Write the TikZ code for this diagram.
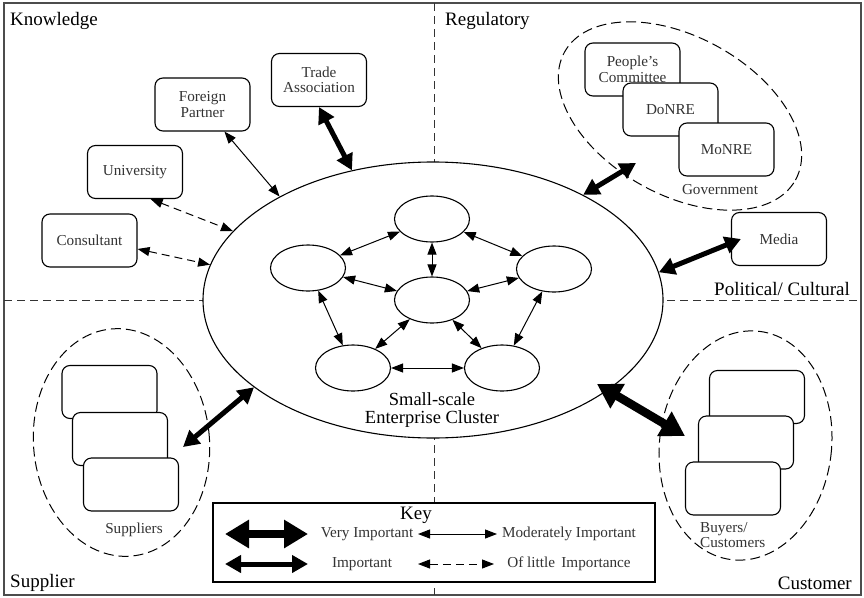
\documentclass[tikz,border=0pt]{standalone}
\usepackage{fontspec}
\setmainfont{Liberation Serif}
\usetikzlibrary{arrows.meta,shapes.geometric}
\begin{document}
\begin{tikzpicture}[x=1pt,y=-1pt,
  frame/.style={draw=black!70, line width=1.4pt},
  divider/.style={draw=black!80, line width=1pt, dash pattern=on 8pt off 5pt},
  box/.style={draw, line width=1.1pt, rounded corners=8pt, fill=white,
    minimum width=95pt, minimum height=53pt, inner sep=2pt, align=center,
    font=\fontsize{15.2}{15.5}\selectfont, text=black!80},
  grp/.style={ellipse, draw, line width=1pt, dash pattern=on 10pt off 5pt, inner sep=0pt},
  inell/.style={ellipse, draw, line width=1.1pt, fill=white, minimum width=75pt, minimum height=46pt, inner sep=0pt},
  small/.style={font=\fontsize{15.2}{15.5}\selectfont, text=black!80, inner sep=0pt},
  head/.style={font=\fontsize{19}{20}\selectfont, inner sep=0pt},
  vimp/.style={line width=8.5pt, {Triangle[length=24pt,width=27pt]}-{Triangle[length=24pt,width=27pt]}},
  imp/.style={line width=5pt, {Triangle[length=16pt,width=17pt]}-{Triangle[length=16pt,width=17pt]}},
  mod/.style={line width=1pt, {Triangle[length=12pt,width=9pt]}-{Triangle[length=12pt,width=9pt]}},
  little/.style={mod, dash pattern=on 8pt off 5pt},
]
\useasboundingbox (0,0) rectangle (864,597);
\fill[white] (0,0) rectangle (864,597);
\draw[frame] (4,3) rectangle (861,595);
\draw[divider] (434,3) -- (434,595);
\draw[divider] (4,300) -- (861,300);

% quadrant headings
\node[head, anchor=base west] (hk) at (10,25) {Knowledge};
\node[head, anchor=base west] (hr) at (445,25) {Regulatory};
\node[head, anchor=base west] (hp) at (714,295) {Political/ Cultural};
\node[head, anchor=base west] (hs) at (10,587) {Supplier};
\node[head, anchor=base east] (hc) at (852,589) {Customer};

% cluster
\node[ellipse, draw, fill=white, line width=1.1pt, minimum width=460pt, minimum height=276pt, inner sep=0pt] (cluster) at (433,300) {};
\node[inell] (et) at (432,219) {};
\node[inell] (el) at (308,268) {};
\node[inell] (er) at (554,269) {};
\node[inell] (ec) at (432,300) {};
\node[inell] (ebl) at (353,368) {};
\node[inell] (ebr) at (502,368) {};
\node[font=\fontsize{18.5}{18.5}\selectfont, align=center, inner sep=0pt] (lbl) at (432,410) {Small-scale\\Enterprise Cluster};

\draw[mod] (et) -- (el);
\draw[mod] (et) -- (er);
\draw[mod] (et) -- (ec);
\draw[mod] (el) -- (ec);
\draw[mod] (er) -- (ec);
\draw[mod] (el) -- (ebl);
\draw[mod] (ec) -- (ebl);
\draw[mod] (ec) -- (ebr);
\draw[mod] (er) -- (ebr);
\draw[mod] (ebl) -- (ebr);

% knowledge boxes
\node[box] (trade) at (319,80) {Trade\\Association};
\node[box] (foreign) at (202.5,104.5) {Foreign\\Partner};
\node[box] (univ) at (135,172) {University};
\node[box] (consult) at (89.5,240.5) {Consultant};

% regulatory
\node[grp, minimum width=264pt, minimum height=158pt, rotate=-29] (gov) at (680,116) {};
\node[box] (pc) at (632.5,69.5) {People’s\\Committee};
\node[box] (donre) at (670.5,109.5) {DoNRE};
\node[box] (monre) at (726.5,149.5) {MoNRE};
\node[small] (govlbl) at (720,190) {Government};
\node[box] (media) at (779,239) {Media};

% suppliers
\node[grp, minimum width=176pt, minimum height=228pt, rotate=5] (suppgrp) at (121.5,442.5) {};
\node[box] (s1) at (109.5,392) {};
\node[box] (s2) at (120,439) {};
\node[box] (s3) at (131,484.5) {};
\node[small] (supplbl) at (134,530) {Suppliers};

% buyers
\node[grp, minimum width=172pt, minimum height=230pt, rotate=-7] (buygrp) at (745.5,445.5) {};
\node[box] (b1) at (757,397) {};
\node[box] (b2) at (746,442.5) {};
\node[box] (b3) at (733,488.5) {};
\node[small, align=left, anchor=west] (buylbl) at (700,535) {Buyers/\\Customers};

% connectors
\coordinate (govend) at (636,163);
\coordinate (suppend) at (183,447);
\coordinate (custa) at (597,384);
\coordinate (custb) at (685,436);
\draw[imp] (trade.south) -- (cluster.122);
\draw[mod] (foreign.-51) -- (cluster.146);
\draw[little] (univ.-60) -- (cluster.161);
\draw[little] (consult.-10) -- (cluster.171);
\draw[imp] (cluster.35) -- (govend);
\draw[imp] (cluster.7) -- ([xshift=10pt]media.west);
\draw[imp] (suppend) -- (cluster.206);
\draw[vimp] (custa) -- (custb);

% key
\node[draw, line width=1.1pt, fill=white, minimum width=442pt, minimum height=79pt, inner sep=0pt] (key) at (434,542.5) {};
\node[head] (keyt) at (416,515) {Key};
\coordinate (k1a) at (225,534); \coordinate (k1b) at (308,534);
\coordinate (k2a) at (225,564); \coordinate (k2b) at (308,564);
\coordinate (k3a) at (418,534); \coordinate (k3b) at (497,534);
\coordinate (k4a) at (418,564); \coordinate (k4b) at (494,564);
\draw[vimp] (k1a) -- (k1b);
\draw[imp] (k2a) -- (k2b);
\draw[mod] (k3a) -- (k3b);
\draw[little] (k4a) -- (k4b);
\node[small] (kt1) at (367,534) {Very Important};
\node[small] (kt2) at (362,564) {Important};
\node[small] (kt3) at (569,534) {Moderately Important};
\node[small] (kt4) at (569,564) {Of little\, Importance};
\end{tikzpicture}
\end{document}
